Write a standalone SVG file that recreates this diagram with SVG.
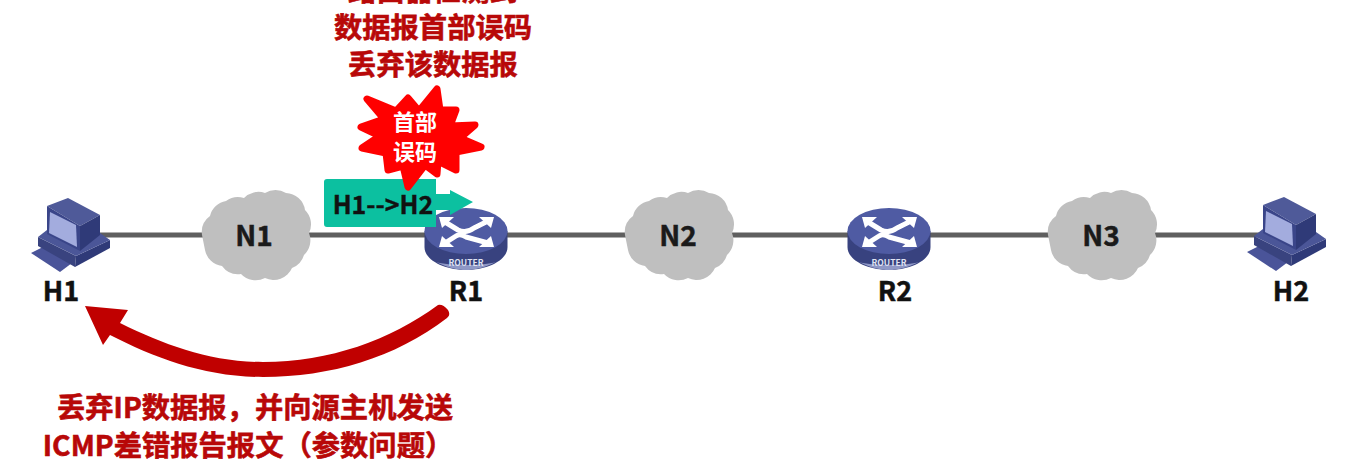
<svg xmlns="http://www.w3.org/2000/svg" width="1363" height="465" viewBox="0 0 1363 465">
<style>
text{font-family:"Noto Sans CJK SC","Noto Sans",sans-serif;font-weight:700;text-anchor:middle}
.lbl{font-size:27px;fill:#111;stroke:#111;stroke-width:.5px}
.cl{font-size:28px;fill:#1a1a1a;stroke:#1a1a1a;stroke-width:.5px}
.red{font-size:28.300px;fill:#b80808;stroke:#b80808;stroke-width:.6px}
.wh{font-size:22px;fill:#fff}
.link{stroke:#5f5f5f;stroke-width:5;fill:none}
.ar{stroke:#fff;stroke-width:5;fill:none;stroke-linejoin:round}
</style>
<defs>
<g id="host">
<polygon points="31,253 45,246 72,263 60,272" fill="#4a5499"/>
<polygon points="38,237 76,256 75,267 38,246" fill="#39437f"/>
<polygon points="76,256 110,240 110,248 75,267" fill="#2f3a78"/>
<polygon points="38,237 47,230 90,226 110,240 76,256" fill="#4b5698"/>
<polygon points="47,206 68,198 100,215 80,226" fill="#4f5a99"/>
<polygon points="80,226 100,215 100,235 80,251" fill="#2f3a78"/>
<polygon points="47,206 80,226 80,251 47,234" fill="#3a4589"/>
<polygon points="50,212 76,225 77,247 49,233" fill="#a3acde"/>
</g>
<g id="cloud">
<path d="M202 235 A20 20 0 0 1 210 216 A20 20 0 0 1 226 201 A20 20 0 0 1 244 198 A20 20 0 0 1 265 193 A20 20 0 0 1 286 193 A20 20 0 0 1 305 210 A20 20 0 0 1 309 233 A20 20 0 0 1 304 255 A20 20 0 0 1 292 268 A20 20 0 0 1 265 278 A20 20 0 0 1 241 274 A20 20 0 0 1 222 266 A20 20 0 0 1 205 250 Z" fill="#bfbfbf"/>
</g>
<g id="router">
<path d="M-41.500 0 V16 C-41.500 30 -20 39 0 39 C20 39 41.500 30 41.500 16 V0 Z" fill="#38427f"/>
<path d="M-30 31 C-18 37 -8 39 0 39 C8 39 18 37 30 31 C18 35 -18 35 -30 31 Z" fill="#8f98c6"/>
<ellipse cx="0" cy="0" rx="41.500" ry="23" fill="#4f5ba3"/>
<path class="ar" d="M-21 -9 L-8 -1 Q0 3 8 -3 L22 -10"/>
<path class="ar" d="M-21 12 L-10 5 Q-6 2 0 6 L22 12"/>
<polygon points="-27,-14 -12,-14 -24,-3" fill="#fff"/>
<polygon points="28,-14 13,-14 25,-3" fill="#fff"/>
<polygon points="-27,16 -24,5 -12,16" fill="#fff"/>
<polygon points="28,16 25,5 13,16" fill="#fff"/>
<text x="0" y="35" style="font-size:8.500px;fill:#dfe2f2">ROUTER</text>
</g>
</defs>
<g id="connectors">
<line class="link" x1="100" y1="235" x2="1260" y2="235"/>
</g>
<g id="node-H1"><use href="#host"/><text class="lbl" x="61" y="301">H1</text></g>
<g id="node-N1"><use href="#cloud"/><text class="cl" x="254" y="246">N1</text></g>
<g id="node-R1"><use href="#router" x="466" y="231"/><text class="lbl" x="466" y="301">R1</text></g>
<g id="node-N2"><use href="#cloud" x="423"/><text class="cl" x="678" y="246">N2</text></g>
<g id="node-R2"><use href="#router" x="889" y="231"/><text class="lbl" x="895" y="301">R2</text></g>
<g id="node-N3"><use href="#cloud" x="846"/><text class="cl" x="1101" y="246">N3</text></g>
<g id="node-H2"><use href="#host" x="1216" y="-1"/><text class="lbl" x="1291" y="301">H2</text></g>
<g id="packet">
<path d="M327 179 H436 V194 H450 V190 L473 202 L450 215 V210 H436 V227 H327 Q324 227 324 224 V182 Q324 179 327 179 Z" fill="#0cc0a0"/>
<text x="383" y="214" style="font-size:25px;fill:#111;stroke:#111;stroke-width:.4px">H1--&gt;H2</text>
</g>
<g id="error-burst">
<polygon points="367,99 396,111 408,98 419,111 437,89 440,110 456,110 450,126 475,125 460,138 481,147 456,152 456,170 438,161 437,174 425,165 408,187 403,166 388,170 386,153 362,148 380,136 361,127 384,119" fill="#ff0000" stroke="#ff0000" stroke-width="7" stroke-linejoin="round"/>
<text class="wh" x="415" y="130">首部</text>
<text class="wh" x="415" y="160">误码</text>
</g>
<g id="return-arrow">
<path d="M438 305 Q443 304 448 310 Q451 315 447 318 C395 358 330 377 263 377 C205 377 155 358 110 335 L103 345 L85 306 L128 310 L120 323 C165 345 210 362 263 362 C330 362 390 340 438 305 Z" fill="#c00000"/>
</g>
<g id="notes">
<text class="red" x="433" y="1">路由器检测到</text>
<text class="red" x="433" y="38">数据报首部误码</text>
<text class="red" x="433" y="75">丢弃该数据报</text>
<text class="red" x="255" y="418">丢弃IP数据报，并向源主机发送</text>
<text class="red" x="248" y="456">ICMP差错报告报文（参数问题）</text>
</g>
</svg>
